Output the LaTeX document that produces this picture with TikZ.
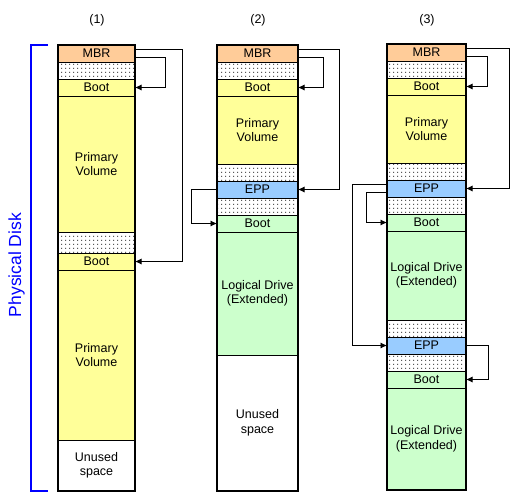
\documentclass[tikz,border=0pt]{standalone}
\usepackage{fontspec}
\setmainfont{Liberation Sans}
\usetikzlibrary{arrows.meta,positioning,patterns}
\definecolor{mbrfill}{HTML}{FFCC99}
\definecolor{volfill}{HTML}{FFFF99}
\definecolor{eppfill}{HTML}{99CCFF}
\definecolor{logfill}{HTML}{CCFFCC}
\pgfdeclarepatternformonly{sparsedots}{\pgfpointorigin}{\pgfqpoint{4pt}{4pt}}{\pgfqpoint{4pt}{4pt}}%
  {\pgfpathrectangle{\pgfqpoint{1.5pt}{1.5pt}}{\pgfqpoint{1pt}{1pt}}\pgfusepath{fill}}
\begin{document}
\begin{tikzpicture}[x=1pt,y=1pt,
   seg/.style={draw,line width=0.6pt,inner sep=0pt,outer sep=0pt,align=center,
     font=\fontsize{12.5}{14.5}\selectfont},
   mbr/.style={seg,fill=mbrfill,minimum height=17pt},
   vol/.style={seg,fill=volfill},
   epp/.style={seg,fill=eppfill,minimum height=17pt},
   logi/.style={seg,fill=logfill},
   gap/.style={seg,pattern=sparsedots,minimum height=17pt},
   free/.style={seg,fill=white},
   link/.style={line width=0.7pt,-{Latex[length=6.5pt,width=6pt]}},
   rim/.style={line width=1.6pt}]
   \useasboundingbox (0,0) rectangle (519,-498);
   % column titles
   \node [font=\fontsize{12.5}{14.5}\selectfont] (t1) at (97,-20) {(1)};
   \node [font=\fontsize{12.5}{14.5}\selectfont] (t2) at (258,-20) {(2)};
   \node [font=\fontsize{12.5}{14.5}\selectfont] (t3) at (427,-20) {(3)};
   % (1)
   \begin{scope}[every node/.append style={minimum width=77pt}]
   \node [mbr,anchor=north] (a1) at (96.5,-45) {MBR};
   \node [gap,below=0pt of a1] (a2) {};
   \node [vol,minimum height=17pt,below=0pt of a2] (a3) {Boot};
   \node [vol,minimum height=136pt,below=0pt of a3] (a4) {Primary\\Volume};
   \node [gap,minimum height=21pt,below=0pt of a4] (a5) {};
   \node [vol,minimum height=17pt,below=0pt of a5] (a6) {Boot};
   \node [vol,minimum height=170pt,below=0pt of a6] (a7) {Primary\\Volume};
   \node [free,minimum height=51pt,below=0pt of a7] (a8) {Unused\\space};
   \end{scope}
   \draw [rim] (a1.north west) rectangle (a8.south east);
   \draw [link] ([yshift=-4pt]a1.east) -- ++(30,0) |- (a3.east);
   \draw [link] ([yshift=4pt]a1.east) -- ++(47,0) |- (a6.east);
   % (2)
   \begin{scope}[every node/.append style={minimum width=81pt}]
   \node [mbr,anchor=north] (b1) at (257.5,-45) {MBR};
   \node [gap,below=0pt of b1] (b2) {};
   \node [vol,minimum height=17pt,below=0pt of b2] (b3) {Boot};
   \node [vol,minimum height=68pt,below=0pt of b3] (b4) {Primary\\Volume};
   \node [gap,below=0pt of b4] (b5) {};
   \node [epp,below=0pt of b5] (b6) {EPP};
   \node [gap,below=0pt of b6] (b7) {};
   \node [logi,minimum height=17pt,below=0pt of b7] (b8) {Boot};
   \node [logi,minimum height=123pt,below=0pt of b8] (b9) {Logical Drive\\(Extended)};
   \node [free,minimum height=136pt,below=0pt of b9] (b10) {Unused\\space};
   \end{scope}
   \draw [rim] (b1.north west) rectangle (b10.south east);
   \draw [link] ([yshift=-4pt]b1.east) -- ++(25,0) |- (b3.east);
   \draw [link] ([yshift=4pt]b1.east) -- ++(41,0) |- (b6.east);
   \draw [link] (b6.west) -- ++(-26,0) |- (b8.west);
   % (3)
   \begin{scope}[every node/.append style={minimum width=79pt}]
   \node [mbr,anchor=north] (c1) at (426.5,-44) {MBR};
   \node [gap,below=0pt of c1] (c2) {};
   \node [vol,minimum height=17pt,below=0pt of c2] (c3) {Boot};
   \node [vol,minimum height=68pt,below=0pt of c3] (c4) {Primary\\Volume};
   \node [gap,below=0pt of c4] (c5) {};
   \node [epp,below=0pt of c5] (c6) {EPP};
   \node [gap,below=0pt of c6] (c7) {};
   \node [logi,minimum height=17pt,below=0pt of c7] (c8) {Boot};
   \node [logi,minimum height=89pt,below=0pt of c8] (c9) {Logical Drive\\(Extended)};
   \node [gap,below=0pt of c9] (c10) {};
   \node [epp,below=0pt of c10] (c11) {EPP};
   \node [gap,below=0pt of c11] (c12) {};
   \node [logi,minimum height=17pt,below=0pt of c12] (c13) {Boot};
   \node [logi,minimum height=102pt,below=0pt of c13] (c14) {Logical Drive\\(Extended)};
   \end{scope}
   \draw [rim] (c1.north west) rectangle (c14.south east);
   \draw [link] ([yshift=-4pt]c1.east) -- ++(21,0) |- (c3.east);
   \draw [link] ([yshift=4pt]c1.east) -- ++(43,0) |- (c6.east);
   \draw [link] ([yshift=4pt]c6.west) -- ++(-35,0) |- (c11.west);
   \draw [link] ([yshift=-4pt]c6.west) -- ++(-21,0) |- (c8.west);
   \draw [link] (c11.east) -- ++(22,0) |- (c13.east);
   % disk bracket
   \draw [blue,line width=2.8pt] (48,-45) -- (31,-45) -- (31,-491) -- (48,-491);
   \node [blue,rotate=90,font=\fontsize{17.5}{20}\selectfont] (pd) at (16.5,-265) {Physical Disk};
  \end{tikzpicture}
\end{document}
